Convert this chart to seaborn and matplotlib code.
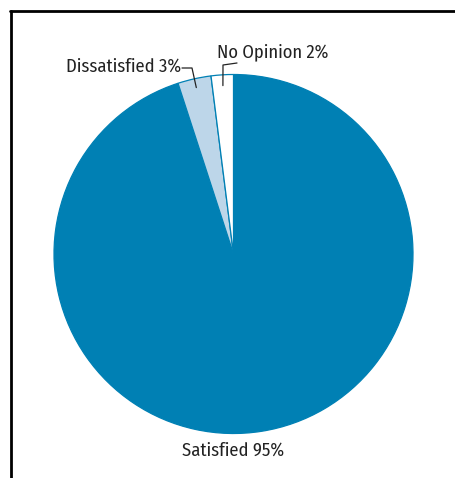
import numpy as np
import matplotlib
matplotlib.use("Agg")
import matplotlib.pyplot as plt
from matplotlib.lines import Line2D
import seaborn as sns

sns.set_theme(style="white")
plt.rcParams['font.family'] = ['Fira Sans Condensed', 'DejaVu Sans']

categories = ["Satisfied", "Dissatisfied", "No Opinion"]
values = [95, 3, 2]
colors = ["#0080B4", "#BDD6E9", "#FFFFFF"]

W, H = 455, 478
fig = plt.figure(figsize=(W / 100, H / 100), dpi=100)
cx, cy, r = 233.5, 254, 179.5
ax = fig.add_axes([(cx - r) / W, (H - cy - r) / H, 2 * r / W, 2 * r / H])
wedges, _ = ax.pie(values, colors=colors, startangle=90, counterclock=False,
                   radius=1, wedgeprops=dict(edgecolor="#0080B4", linewidth=0.9))
ax.set_xlim(-1, 1)
ax.set_ylim(-1, 1)
ax.set_aspect("equal")
ax.axis("off")

fw = "normal"
renderer = fig.canvas.get_renderer()
probe = fig.text(0, 0, "Satisfied 95%", fontsize=10, fontweight=fw)
w10 = probe.get_window_extent(renderer).width
probe.remove()
fs = 10 * 102 / w10

def px_to_data(x, y):
    return ((x - cx) / r, (cy - y) / r)

total = sum(values)
starts = np.cumsum([0] + values[:-1])
mids = [90 - 360 * (s + v / 2) / total for s, v in zip(starts, values)]
lbl = [f"{c} {v}%" for c, v in zip(categories, values)]
tc = "#222222"

ax.text(0, px_to_data(0, 451)[1], lbl[0], ha="center", va="center",
        fontsize=fs, fontweight=fw, color=tc, clip_on=False)

a = np.deg2rad(mids[1])
p0 = (0.95 * np.cos(a), 0.95 * np.sin(a))
p1 = px_to_data(192, 68)
p2 = px_to_data(182, 68)
ax.add_line(Line2D([p0[0], p1[0], p2[0]], [p0[1], p1[1], p2[1]], color=tc, lw=0.9, clip_on=False))
ax.text(p2[0] - 0.003, px_to_data(0, 66.5)[1], lbl[1], ha="right", va="center",
        fontsize=fs, fontweight=fw, color=tc, clip_on=False)

a = np.deg2rad(mids[2])
q0 = (0.94 * np.cos(a), 0.94 * np.sin(a))
q1 = px_to_data(223, 65)
q2 = px_to_data(237, 63)
ax.add_line(Line2D([q0[0], q1[0], q2[0]], [q0[1], q1[1], q2[1]], color=tc, lw=0.9, clip_on=False))
tx, ty = px_to_data(217, 52)
ax.text(tx, ty, lbl[2], ha="left", va="center", fontsize=fs, fontweight=fw, color=tc, clip_on=False)

bx, by = 11 / W, 1 - 11 / H
fig.add_artist(Line2D([bx, bx], [0, by], transform=fig.transFigure, color="black", lw=2.0))
fig.add_artist(Line2D([bx - 0.002, 1], [by, by], transform=fig.transFigure, color="black", lw=2.0))

fig.savefig("out.png", dpi=100, facecolor="white")
